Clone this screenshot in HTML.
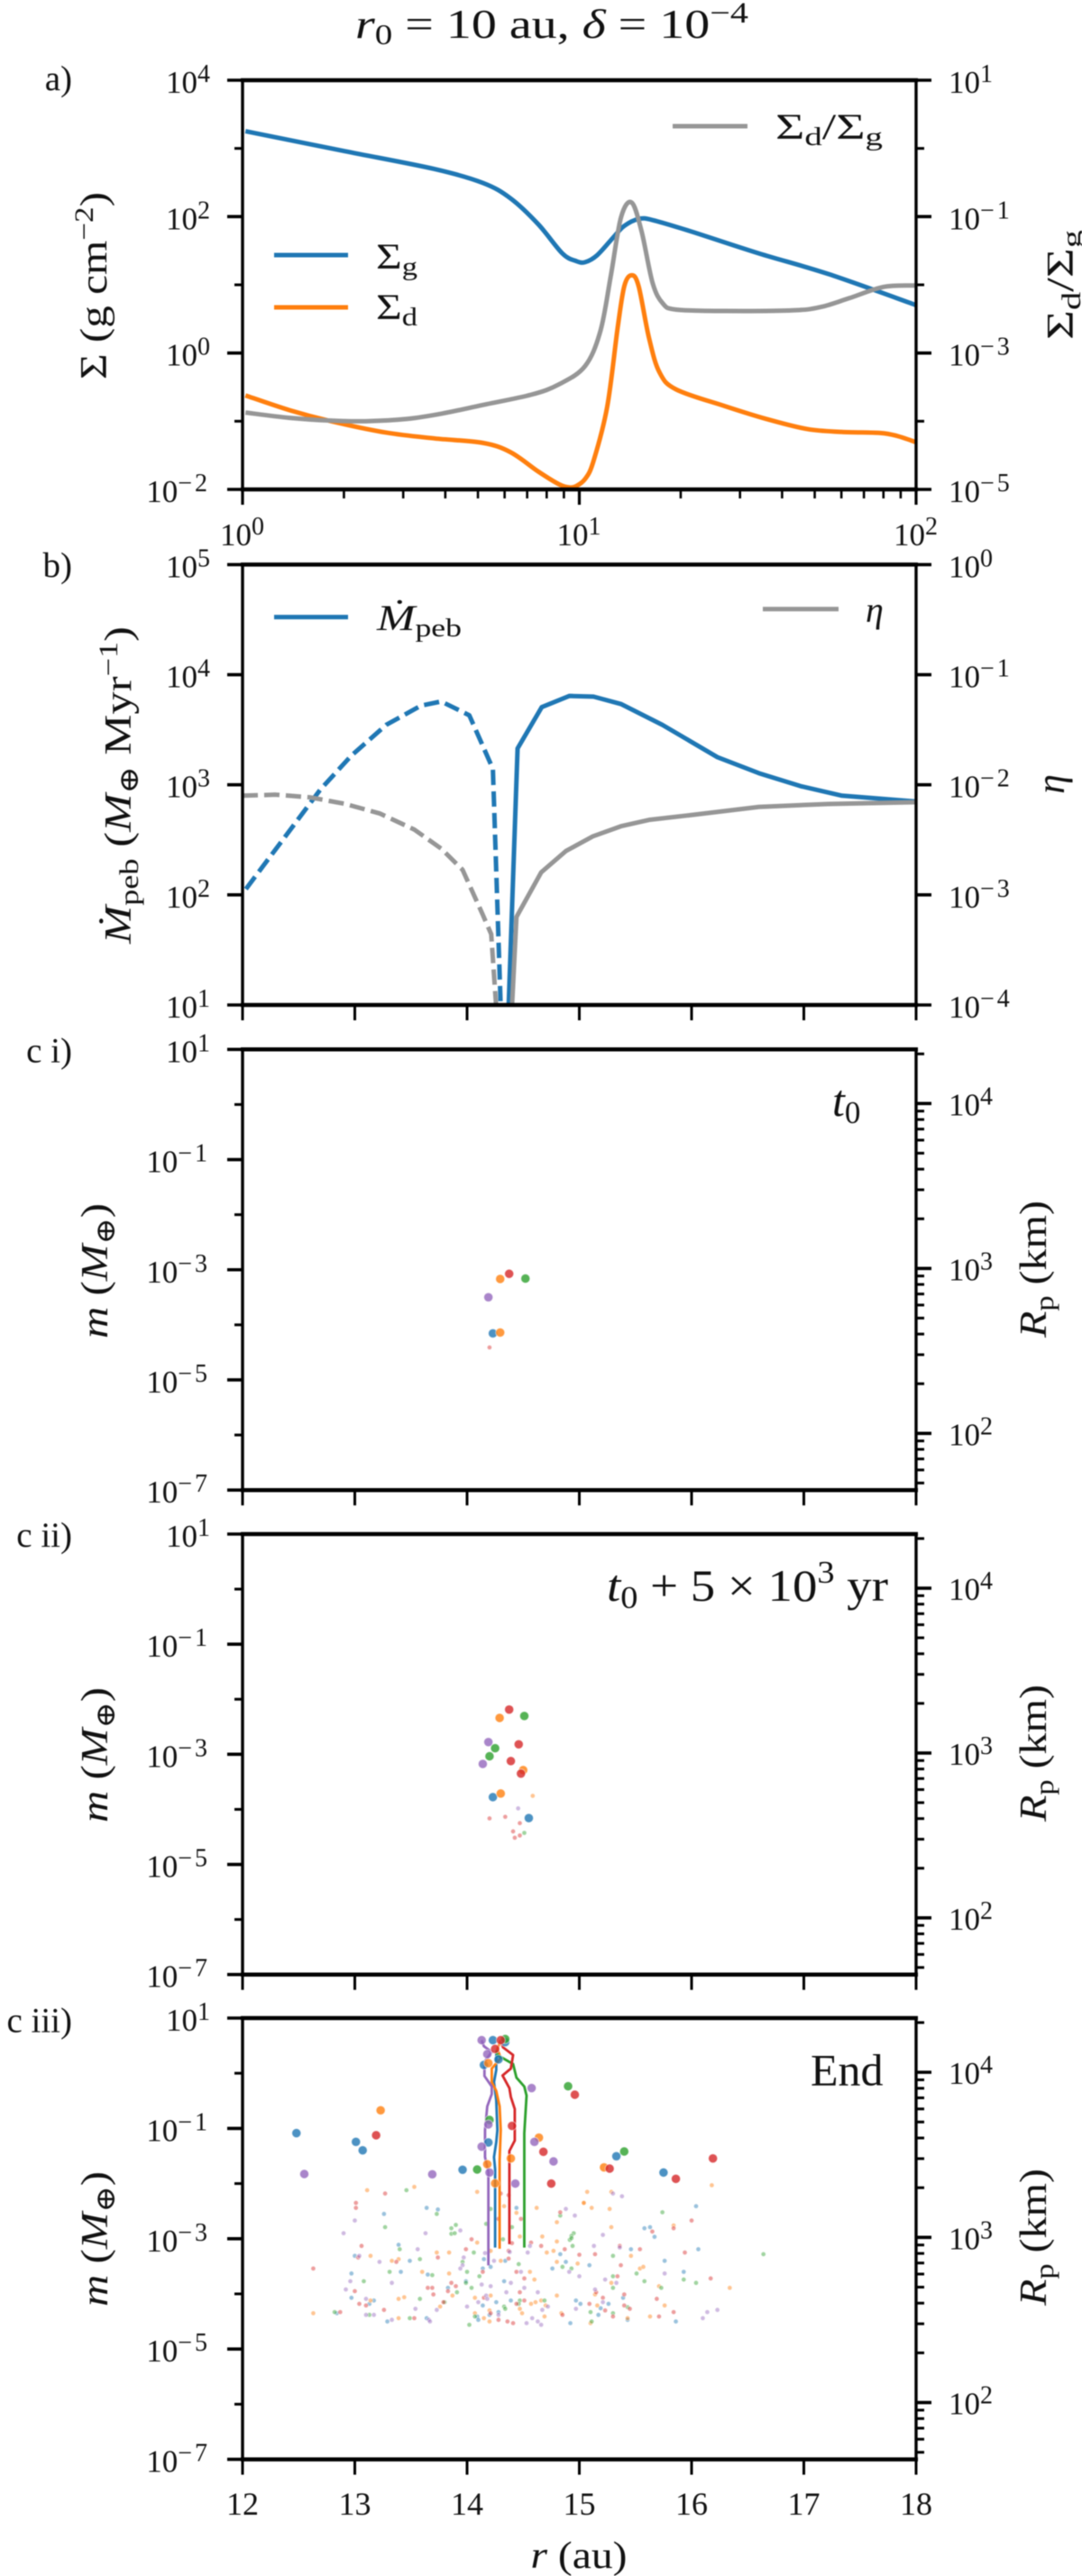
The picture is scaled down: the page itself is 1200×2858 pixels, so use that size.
<!DOCTYPE html>
<html lang="en">
<head>
<meta charset="utf-8">
<title>Planetesimal growth figure</title>
<style>
html,body{margin:0;padding:0;background:#fff;}
svg{display:block;filter:blur(.45px);}
text{font-family:"Liberation Serif","DejaVu Serif",serif;fill:#111;}
.i{font-style:italic;}
</style>
</head>
<body>
<svg id="fig" xmlns="http://www.w3.org/2000/svg" width="1200" height="2858" viewBox="0 0 1200 2858">
  <rect width="1200" height="2858" fill="#fff"/>
  <g id="marks"></g>
  <g id="axes"></g>

  <text x="394" y="42" font-size="46" textLength="436" lengthAdjust="spacingAndGlyphs"><tspan class="i">r</tspan><tspan font-size="32" dy="7">0</tspan><tspan dy="-7"> = 10 au, </tspan><tspan class="i">δ</tspan><tspan> = 10</tspan><tspan font-size="33" dy="-17">−4</tspan></text>

  <text x="80" y="100" font-size="39" text-anchor="end">a)</text>
  <text x="80" y="640" font-size="39" text-anchor="end">b)</text>
  <text x="80" y="1178.6" font-size="39" text-anchor="end">c i)</text>
  <text x="80" y="1716" font-size="39" text-anchor="end">c ii)</text>
  <text x="80" y="2254.6" font-size="39" text-anchor="end">c iii)</text>

  <text transform="translate(118 317) rotate(-90)" font-size="42" text-anchor="middle" textLength="208" lengthAdjust="spacingAndGlyphs">Σ (g cm<tspan font-size="30" dy="-15">−2</tspan><tspan dy="15">)</tspan></text>
  <text transform="translate(1190 316) rotate(-90)" font-size="42" text-anchor="middle" textLength="122" lengthAdjust="spacingAndGlyphs">Σ<tspan font-size="30" dy="8">d</tspan><tspan dy="-8">/Σ</tspan><tspan font-size="30" dy="8">g</tspan></text>
  <text transform="translate(145 871) rotate(-90)" font-size="42" text-anchor="middle" textLength="352" lengthAdjust="spacingAndGlyphs"><tspan class="i">Ṁ</tspan><tspan font-size="30" dy="8">peb</tspan><tspan dy="-8"> (</tspan><tspan class="i">M</tspan><tspan font-size="30" dy="8">⊕</tspan><tspan dy="-8"> Myr</tspan><tspan font-size="30" dy="-15">−1</tspan><tspan dy="15">)</tspan></text>
  <text transform="translate(1180 870) rotate(-90)" font-size="44" text-anchor="middle" class="i">η</text>

  <text transform="translate(119 1410) rotate(-90)" font-size="42" text-anchor="middle" textLength="150" lengthAdjust="spacingAndGlyphs"><tspan class="i">m</tspan><tspan> (</tspan><tspan class="i">M</tspan><tspan font-size="30" dy="8">⊕</tspan><tspan dy="-8">)</tspan></text>
  <text transform="translate(1160 1408) rotate(-90)" font-size="42" text-anchor="middle" textLength="152" lengthAdjust="spacingAndGlyphs"><tspan class="i">R</tspan><tspan font-size="30" dy="8">p</tspan><tspan dy="-8"> (km)</tspan></text>
  <text transform="translate(119 1947) rotate(-90)" font-size="42" text-anchor="middle" textLength="150" lengthAdjust="spacingAndGlyphs"><tspan class="i">m</tspan><tspan> (</tspan><tspan class="i">M</tspan><tspan font-size="30" dy="8">⊕</tspan><tspan dy="-8">)</tspan></text>
  <text transform="translate(1160 1945) rotate(-90)" font-size="42" text-anchor="middle" textLength="152" lengthAdjust="spacingAndGlyphs"><tspan class="i">R</tspan><tspan font-size="30" dy="8">p</tspan><tspan dy="-8"> (km)</tspan></text>
  <text transform="translate(119 2484) rotate(-90)" font-size="42" text-anchor="middle" textLength="150" lengthAdjust="spacingAndGlyphs"><tspan class="i">m</tspan><tspan> (</tspan><tspan class="i">M</tspan><tspan font-size="30" dy="8">⊕</tspan><tspan dy="-8">)</tspan></text>
  <text transform="translate(1160 2482) rotate(-90)" font-size="42" text-anchor="middle" textLength="152" lengthAdjust="spacingAndGlyphs"><tspan class="i">R</tspan><tspan font-size="30" dy="8">p</tspan><tspan dy="-8"> (km)</tspan></text>
  <text x="642" y="2849" font-size="42" text-anchor="middle" textLength="107" lengthAdjust="spacingAndGlyphs"><tspan class="i">r</tspan><tspan> (au)</tspan></text>

  <g>
    <line x1="304" x2="386" y1="283" y2="283" stroke="#1f77b4" stroke-width="5"/>
    <text x="417" y="298" font-size="40" textLength="46" lengthAdjust="spacingAndGlyphs">Σ<tspan font-size="28" dy="7">g</tspan></text>
    <line x1="304" x2="386" y1="341" y2="341" stroke="#ff7f0e" stroke-width="5"/>
    <text x="417" y="354" font-size="40" textLength="46" lengthAdjust="spacingAndGlyphs">Σ<tspan font-size="28" dy="7">d</tspan></text>
    <line x1="746" x2="829" y1="140" y2="140" stroke="#969696" stroke-width="5"/>
    <text x="860" y="154" font-size="40" textLength="119" lengthAdjust="spacingAndGlyphs">Σ<tspan font-size="28" dy="7">d</tspan><tspan dy="-7">/Σ</tspan><tspan font-size="28" dy="7">g</tspan></text>
  </g>
  <g>
    <line x1="304" x2="386" y1="684.6" y2="684.6" stroke="#1f77b4" stroke-width="5"/>
    <text x="418" y="699" font-size="40" textLength="94" lengthAdjust="spacingAndGlyphs"><tspan class="i">Ṁ</tspan><tspan font-size="28" dy="7">peb</tspan></text>
    <line x1="846" x2="930" y1="675.7" y2="675.7" stroke="#969696" stroke-width="5"/>
    <text x="960" y="690" font-size="40" class="i">η</text>
  </g>

  <text x="923" y="1238" font-size="50"><tspan class="i">t</tspan><tspan font-size="35" dy="8">0</tspan></text>
  <text x="673" y="1776" font-size="50" textLength="312" lengthAdjust="spacingAndGlyphs"><tspan class="i">t</tspan><tspan font-size="35" dy="8">0</tspan><tspan dy="-8"> + 5 × 10</tspan><tspan font-size="35" dy="-20">3</tspan><tspan dy="20"> yr</tspan></text>
  <text x="899" y="2313.6" font-size="50">End</text>
</svg>

<script>
// ---------- Panel a: surface densities against radius (au) ----------
const gasRadius = [1.02,2.01,3.72,5.17,6.25,7.55,8.91,9.79,10.4,11.3,12.7,13.6,15.0,16.5,21.3,34.2,54.9,100];
const gasSigma = [1790,912,498,312,185,77.4,28.8,22.3,21.5,27.2,51.5,73.1,92.3,89.1,61.4,28.8,14.4,5.04];
const dustRadius = [1.02,1.38,1.83,2.67,3.72,5.17,6.25,7.55,8.70,9.34,9.79,10.4,11.0,12.1,13.0,13.6,14.3,15.0,16.1,17.3,19.4,27.0,35.9,47.6,60.3,78.2,88.0,100];
const dustSigma = [.239,.145,.1,.0681,.0559,.0481,.0351,.0183,.0119,.0107,.0112,.0142,.0254,.163,2.37,9.55,13.8,9.55,1.67,.521,.292,.167,.108,.0766,.0697,.0673,.0607,.0492];
const ratioRadius = [1.02,1.38,1.83,2.32,3.08,3.90,5.17,7.20,8.70,10.4,11.55,12.4,13.3,14.3,15.3,16.5,17.7,19.4,27.0,43.3,52.3,63.2,80.1,100];
const ratioValue = [1.34e-4,1.12e-4,1.02e-4,1.0e-4,1.08e-4,1.29e-4,1.73e-4,2.45e-4,3.47e-4,6.43e-4,2.10e-3,.0135,.0977,.161,.0614,.0107,5.33e-3,4.33e-3,4.13e-3,4.23e-3,4.75e-3,6.35e-3,9.33e-3,9.77e-3];
const sigmaMajorExps = [4,2,0,-2];
const sigmaMinorExps = [3,1,-1];
const ratioMajorExps = [1,-1,-3,-5];
const ratioMinorExps = [0,-2,-4];
const radiusLogExps = [0,1,2];

// ---------- Panel b: pebble flux and eta ----------
const mdotDashRadius = [12.03,12.695,12.97,13.28,13.59,13.77,14.02,14.23,14.30];
const mdotDashValue = [113,910,1845,3500,5240,5710,4280,1396,9.5];
const mdotSolidRadius = [14.37,14.45,14.665,14.91,15.126,15.37,15.74,16.23,16.60,16.97,17.34,18];
const mdotSolidValue = [9.5,2138,5070,6410,6320,5420,3500,1782,1274,973,796,705];
const etaDashRadius = [12.0,12.295,12.60,12.91,13.22,13.53,13.77,13.96,14.14,14.215,14.26];
const etaDashValue = [7.96e-3,8.13e-3,7.69e-3,6.72e-3,5.5e-3,3.92e-3,2.63e-3,1.69e-3,6.6e-4,4.4e-4,.95e-4];
const etaSolidRadius = [14.40,14.44,14.66,14.88,15.12,15.37,15.62,15.99,16.6,17.22,18];
const etaSolidValue = [.95e-4,6.3e-4,1.6e-3,2.5e-3,3.4e-3,4.2e-3,4.8e-3,5.3e-3,6.3e-3,6.7e-3,6.95e-3];
const mdotTickExps = [5,4,3,2,1];
const etaTickExps = [0,-1,-2,-3,-4];
const linearRadiusTicks = [12,13,14,15,16,17,18];

// ---------- Panels c: mass axes ----------
const massMajorExps = [1,-1,-3,-5,-7];
const massMinorExps = [0,-2,-4,-6];
const radiusKmMajorExps = [4,3,2];

// Scatter points as [radius au, log10 mass]
const c1Large = {
  blue: [[14.23,-4.155]],
  orange: [[14.295,-3.167],[14.295,-4.14]],
  green: [[14.52,-3.16]],
  red: [[14.375,-3.074]],
  purple: [[14.19,-3.5]]
};
const c1Small = { red: [[14.20,-4.41]] };

const c2Large = {
  blue: [[14.23,-3.778],[14.55,-4.158]],
  orange: [[14.29,-2.339],[14.50,-3.287],[14.30,-3.713]],
  green: [[14.51,-2.304],[14.25,-2.889],[14.20,-3.035]],
  red: [[14.375,-2.187],[14.46,-2.819],[14.39,-3.123],[14.48,-3.351]],
  purple: [[14.19,-2.778],[14.14,-3.175]]
};
const c2Small = {
  orange: [[14.585,-3.754]],
  green: [[14.51,-4.427]],
  red: [[14.20,-4.164],[14.34,-4.135],[14.47,-4.25],[14.41,-4.40],[14.47,-4.474],[14.425,-4.515]],
  purple: [[14.455,-3.982]]
};

const c3Large = {
  blue: [[14.23,.60],[14.34,.564],[14.28,.25],[14.15,.15],[12.48,-1.086],[13.01,-1.244],[13.07,-1.397],[13.96,-1.75],[14.19,-1.255],[15.33,-1.505],[15.75,-1.80]],
  orange: [[14.19,.183],[13.23,-.672],[14.18,-1.65],[14.39,-1.544],[14.64,-1.168],[14.25,-1.996],[15.22,-1.707]],
  green: [[14.34,.62],[14.90,-.236],[14.09,-1.745],[14.20,-.846],[15.40,-1.418]],
  red: [[14.30,.60],[14.25,.44],[14.96,-.389],[13.19,-1.124],[14.40,-.955],[14.68,-1.424],[14.75,-2.0],[15.27,-1.729],[15.86,-1.914],[16.19,-1.544]],
  purple: [[14.13,.60],[14.18,.346],[14.575,-.269],[12.55,-1.827],[13.69,-1.832],[14.20,-1.80],[14.19,-.928],[14.13,-1.331],[14.60,-1.244],[14.77,-1.598],[14.43,-2.0]]
};

const c3Small = {
  blue: [[13.64,-2.44],[13.74,-2.47],[13.26,-2.55],[14.44,-2.44],[15.58,-2.81],[15.63,-2.79],[15.67,-2.965],[16.04,-2.41],
    [13.39,-3.11],[13.00,-3.31],[13.49,-3.40],[12.97,-3.63],[13.41,-3.60],[12.97,-4.07],[13.17,-4.12],[13.13,-4.18],[12.84,-4.35],[13.29,-4.50],[13.64,-4.44],[13.65,-3.65],[13.83,-3.89],[13.99,-3.77],[14.14,-3.54],[14.15,-3.37],[14.21,-3.51],[14.33,-3.77],[14.39,-4.12],[14.26,-4.15],[14.14,-4.21],[14.28,-4.33],[14.20,-4.38],[14.09,-4.41],[14.10,-4.47],[14.92,-4.53],[14.97,-4.12],[15.01,-4.18],[14.83,-3.28],[14.88,-3.42],[14.76,-3.54],[14.34,-3.40],
    [15.46,-3.19],[15.76,-3.40],[15.09,-3.48],[16.06,-3.19],[15.93,-3.60],[15.19,-4.26],[15.17,-4.38],[15.26,-4.18],[15.86,-4.50],[15.43,-4.47],[15.39,-4.07]],
  orange: [[13.11,-2.12],[13.53,-2.06],[14.09,-2.15],[14.33,-2.41],[14.44,-2.53],[14.62,-2.44],[14.80,-2.70],[15.04,-2.35],[15.07,-2.15],[15.285,-2.15],[15.04,-2.35],[15.11,-2.44],[15.27,-2.46],[15.285,-2.79],[15.84,-2.76],[16.18,-2.03],
    [13.14,-3.31],[13.33,-3.40],[13.39,-3.37],[13.73,-3.25],[13.84,-3.25],[14.09,-3.07],[14.47,-2.96],[14.67,-2.96],[14.80,-3.05],[14.71,-3.25],[14.77,-3.22],[14.80,-3.42],[14.985,-3.45],[13.60,-3.60],[13.84,-3.63],[13.39,-4.09],[13.44,-4.06],[13.14,-4.12],[12.63,-4.35],[13.39,-4.44],[13.76,-4.23],[13.87,-4.03],[14.07,-4.07],[14.21,-4.03],[14.56,-3.60],[14.60,-3.74],[14.47,-4.27],[14.49,-4.35],[14.57,-4.18],[14.61,-4.15],[14.66,-4.12],[14.70,-4.21],[14.80,-4.03],[14.84,-4.35],[14.69,-4.41],[14.20,-4.30],[14.07,-4.35],[14.15,-4.44],[14.20,-4.50],[14.21,-3.22],[14.30,-3.40],
    [15.46,-3.31],[15.54,-3.54],[15.57,-3.51],[15.285,-3.80],[15.14,-4.01],[15.16,-4.21],[15.71,-3.86],[15.76,-4.21],[15.43,-4.44],[15.63,-4.41],[16.34,-3.89],[15.10,-4.53]],
  green: [[13.46,-2.12],[13.73,-2.55],[13.27,-2.79],[13.90,-2.75],[13.86,-2.81],[13.86,-2.91],[13.89,-2.90],[14.21,-2.46],[14.17,-2.73],[14.40,-2.79],[14.83,-2.58],[15.74,-2.52],[14.95,-2.90],[14.93,-2.95],[14.915,-3.02],
    [13.40,-3.19],[14.06,-3.25],[13.58,-3.37],[13.96,-3.42],[13.31,-3.60],[13.08,-3.77],[13.69,-3.66],[14.00,-3.60],[14.11,-3.68],[14.04,-3.89],[13.91,-3.97],[13.99,-3.80],[13.58,-4.09],[12.82,-4.33],[13.13,-4.38],[13.49,-4.44],[13.80,-4.15],[14.33,-4.23],[14.34,-4.27],[14.07,-4.41],[14.02,-4.56],[14.46,-3.46],[14.47,-4.12],[14.46,-4.18],[14.69,-4.12],[14.85,-3.51],[14.93,-3.54],[14.94,-3.13],[14.93,-2.99],[14.32,-3.01],
    [15.30,-3.31],[15.51,-3.63],[15.58,-3.77],[15.30,-3.68],[15.30,-3.89],[15.93,-3.74],[16.04,-3.80],[15.73,-3.89],[15.10,-4.33],[15.43,-4.24],[15.30,-4.35],[16.64,-3.28],[15.11,-4.50]],
  red: [[13.27,-2.18],[13.01,-2.35],[13.01,-2.44],[14.30,-2.18],[14.37,-2.21],[14.28,-2.64],[14.48,-2.64],[14.83,-2.52],[15.65,-2.87],[15.84,-2.81],[16.0,-2.67],
    [13.06,-3.13],[12.63,-3.54],[13.00,-3.95],[13.04,-4.18],[13.10,-4.21],[13.26,-4.29],[13.03,-3.34],[13.37,-3.42],[13.74,-3.34],[13.99,-3.19],[14.04,-3.01],[13.65,-3.89],[13.69,-3.89],[13.70,-4.01],[13.83,-3.95],[13.86,-3.80],[13.90,-3.86],[14.40,-3.08],[14.37,-3.22],[14.37,-3.36],[14.57,-3.07],[14.66,-3.13],[14.87,-3.19],[15.00,-3.29],[14.44,-3.60],[14.51,-3.72],[14.47,-3.97],[14.51,-4.12],[14.44,-4.18],[12.87,-4.33],[13.53,-4.44],[13.79,-4.15],[14.21,-4.35],[14.28,-4.47],[14.36,-4.50],[14.41,-4.53],[14.85,-4.38],[14.14,-3.60],[14.15,-4.07],
    [15.14,-3.28],[15.36,-3.13],[15.54,-3.19],[15.34,-3.68],[15.37,-3.48],[15.94,-3.25],[16.17,-3.72],[15.21,-4.07],[15.09,-4.18],[15.15,-3.97],[15.23,-4.30],[15.40,-4.01],[15.40,-4.21],[15.45,-4.27],[15.69,-4.09],[15.84,-4.33],[15.71,-4.41],[15.30,-4.41]],
  purple: [[13.00,-2.67],[12.90,-2.90],[13.63,-2.90],[13.94,-2.85],[14.88,-2.46],[14.96,-2.58],[15.30,-2.18],[15.38,-2.23],[15.21,-2.93],
    [13.56,-3.19],[13.04,-3.31],[13.22,-3.42],[12.96,-3.77],[13.33,-3.80],[12.92,-3.92],[13.10,-4.09],[13.10,-4.38],[13.17,-4.38],[13.33,-4.47],[13.54,-4.27],[13.73,-4.29],[13.66,-4.47],[13.67,-4.50],[13.97,-3.34],[13.96,-3.48],[13.94,-3.54],[14.16,-3.26],[14.24,-3.40],[14.13,-3.83],[14.00,-4.23],[14.17,-4.03],[14.18,-4.09],[14.10,-4.15],[14.21,-3.86],[14.39,-3.80],[14.35,-3.97],[14.51,-3.89],[14.48,-3.60],[14.63,-3.97],[14.67,-4.29],[14.72,-4.23],[14.58,-4.44],[14.63,-4.50],[14.66,-4.56],[14.53,-4.53],[14.91,-3.60],[15.00,-3.68],[14.97,-4.27],[14.54,-3.25],[14.56,-3.13],[14.38,-3.24],[14.28,-4.38],
    [15.13,-3.13],[15.36,-3.16],[15.76,-3.63],[15.23,-3.74],[15.33,-3.80],[15.14,-3.92],[15.21,-4.15],[16.14,-4.33],[16.23,-4.29],[16.10,-4.44]]
};

// Growth tracks in the End panel as [radius au, log10 mass]
const trackBlue = [[14.25,-3.16],[14.25,-1.74],[14.24,-1.52],[14.26,-1.25],[14.27,-1.03],[14.26,-.49],[14.24,-.16],[14.26,.06],[14.26,.33],[14.27,.44]];
const trackOrange = [[14.29,-3.18],[14.29,-1.58],[14.30,-1.03],[14.29,-.60],[14.26,-.32],[14.22,-.16],[14.22,.085],[14.30,.275],[14.27,.44],[14.30,.60]];
const trackRed = [[14.377,-3.10],[14.377,-1.41],[14.425,-1.22],[14.425,-.65],[14.39,-.43],[14.377,-.27],[14.316,-.04],[14.39,.085],[14.41,.33],[14.32,.47],[14.30,.60]];
const trackGreen = [[14.51,-3.16],[14.51,-1.086],[14.53,-.405],[14.51,-.242],[14.44,-.079],[14.41,.167],[14.27,.33],[14.26,.41]];
const trackPurple = [[14.19,-3.483],[14.19,-1.794],[14.16,-1.52],[14.16,-1.03],[14.18,-.60],[14.22,-.378],[14.22,-.24],[14.155,-.05],[14.155,.167],[14.16,.22],[14.22,.385],[14.15,.49],[14.13,.60]];

const COLORS = {blue:'#1f77b4',orange:'#ff7f0e',green:'#2ca02c',red:'#d62728',purple:'#9467bd'};
const GREY = '#969696';
const NS = 'http://www.w3.org/2000/svg';
const marksLayer = document.getElementById('marks');
const axesLayer = document.getElementById('axes');
const PLOT_LEFT = 269, PLOT_RIGHT = 1016;

function logScale(d0,d1,p0,p1){
  return v => p0 + (Math.log10(v)-Math.log10(d0))/(Math.log10(d1)-Math.log10(d0))*(p1-p0);
}
function linScale(d0,d1,p0,p1){
  return v => p0 + (v-d0)/(d1-d0)*(p1-p0);
}
function svgEl(tag,attrs,parent){
  const el = document.createElementNS(NS,tag);
  for(const k in attrs){ el.setAttribute(k,attrs[k]); }
  parent.appendChild(el);
  return el;
}
function makeClip(id,top,bottom){
  const cp = svgEl('clipPath',{id:id},marksLayer);
  svgEl('rect',{x:PLOT_LEFT,y:top,width:PLOT_RIGHT-PLOT_LEFT,height:bottom-top},cp);
}
function polyPath(xs,ys,fx,fy){
  return xs.map((x,i)=>(i?'L':'M')+fx(x).toFixed(2)+' '+fy(ys[i]).toFixed(2)).join(' ');
}
function smoothPath(xs,ys,fx,fy){
  const p = xs.map((x,i)=>[fx(x),fy(ys[i])]);
  let d = 'M'+p[0][0].toFixed(2)+' '+p[0][1].toFixed(2);
  for(let i=0;i<p.length-1;i++){
    const a=p[Math.max(i-1,0)],b=p[i],c=p[i+1],e=p[Math.min(i+2,p.length-1)];
    const c1=[b[0]+(c[0]-a[0])/6,b[1]+(c[1]-a[1])/6];
    const c2=[c[0]-(e[0]-b[0])/6,c[1]-(e[1]-b[1])/6];
    d+=' C'+c1[0].toFixed(2)+' '+c1[1].toFixed(2)+' '+c2[0].toFixed(2)+' '+c2[1].toFixed(2)+' '+c[0].toFixed(2)+' '+c[1].toFixed(2);
  }
  return d;
}
function drawLine(d,color,width,clipId,name,dash){
  const el = svgEl('path',{d:d,fill:'none',stroke:color,'stroke-width':width,'stroke-linejoin':'round','clip-path':'url(#'+clipId+')'},marksLayer);
  if(dash){ el.setAttribute('stroke-dasharray',dash); }
  
  
  return el;
}
function hLine(x1,x2,y,w,name){
  const el = svgEl('line',{x1:x1,x2:x2,y1:y,y2:y,stroke:'#000','stroke-width':w},axesLayer);
  
  
}
function vLine(x,y1,y2,w,name){
  const el = svgEl('line',{x1:x,x2:x,y1:y1,y2:y2,stroke:'#000','stroke-width':w},axesLayer);
  
  
}
function frame(top,bottom,prefix){
  hLine(PLOT_LEFT-2,PLOT_RIGHT+2,top,4.5,prefix+'-top-spine');
  hLine(PLOT_LEFT-2,PLOT_RIGHT+2,bottom,4.5,prefix+'-bottom-spine');
  vLine(PLOT_LEFT,top,bottom,3.4,prefix+'-left-spine');
  vLine(PLOT_RIGHT,top,bottom,3.4,prefix+'-right-spine');
}
function powerLabel(x,y,exp,anchor,name){
  const t = svgEl('text',{x:x,y:y,'font-size':35,'text-anchor':anchor},axesLayer);
  
  
  t.appendChild(document.createTextNode('10'));
  const s = svgEl('tspan',{'font-size':28,dy:-12,'letter-spacing':exp<0?3:0},t);
  s.textContent = (exp<0?'−':'')+Math.abs(exp);
}
function plainLabel(x,y,str,name){
  const t = svgEl('text',{x:x,y:y,'font-size':36,'text-anchor':'middle'},axesLayer);
  
  
  t.textContent = str;
}
function leftTicks(fy,majors,minors,prefix,withLabels){
  majors.forEach(e=>{
    const y = fy(Math.pow(10,e));
    hLine(PLOT_LEFT-17,PLOT_LEFT,y,3.6,prefix+'-left-major-tick');
    if(withLabels){ powerLabel(233,y+14,e,'end',prefix+'-left-tick-label'); }
  });
  minors.forEach(e=>{
    hLine(PLOT_LEFT-9,PLOT_LEFT,fy(Math.pow(10,e)),3,prefix+'-left-minor-tick');
  });
}
function rightTicks(fy,majors,minors,prefix){
  majors.forEach(e=>{
    const y = fy(Math.pow(10,e));
    hLine(PLOT_RIGHT,PLOT_RIGHT+17,y,3.6,prefix+'-right-major-tick');
    powerLabel(1052,y+14,e,'start',prefix+'-right-tick-label');
  });
  minors.forEach(e=>{
    hLine(PLOT_RIGHT,PLOT_RIGHT+9,fy(Math.pow(10,e)),3,prefix+'-right-minor-tick');
  });
}
function linearXTicks(fx,bottom,prefix){
  linearRadiusTicks.forEach(v=>{
    vLine(fx(v),bottom,bottom+17,3,prefix+'-x-tick');
  });
}
function scatter(groups,fx,fy,radius,opacity,prefix){
  Object.keys(groups).forEach(colorKey=>{
    groups[colorKey].forEach(pt=>{
      const c = svgEl('circle',{cx:fx(pt[0]).toFixed(2),cy:fy(Math.pow(10,pt[1])).toFixed(2),r:radius,fill:COLORS[colorKey],'fill-opacity':opacity,stroke:'#fff','stroke-opacity':.6,'stroke-width':.8},marksLayer);
      
      
    });
  });
}
function trackPath(track,fx,fy){
  return polyPath(track.map(p=>p[0]),track.map(p=>Math.pow(10,p[1])),fx,fy);
}

// ---------- draw panel a ----------
(function(){
  const top=89,bottom=543;
  makeClip('clip-a',top,bottom);
  const fx = logScale(1,100,PLOT_LEFT,PLOT_RIGHT);
  const fyS = logScale(1e4,1e-2,top,bottom);
  const fyR = logScale(10,1e-5,top,bottom);
  drawLine(smoothPath(gasRadius,gasSigma,fx,fyS),COLORS.blue,5,'clip-a','sigma-gas-line');
  drawLine(smoothPath(dustRadius,dustSigma,fx,fyS),COLORS.orange,5,'clip-a','sigma-dust-line');
  drawLine(smoothPath(ratioRadius,ratioValue,fx,fyR),GREY,5,'clip-a','dust-to-gas-line');
  frame(top,bottom,'panel-a');
  leftTicks(fyS,sigmaMajorExps,sigmaMinorExps,'panel-a',true);
  rightTicks(fyR,ratioMajorExps,ratioMinorExps,'panel-a');
  radiusLogExps.forEach(e=>{
    const v = Math.pow(10,e);
    vLine(fx(v),bottom,bottom+17,3.2,'panel-a-x-major-tick');
    powerLabel(fx(v)-25,605,e,'start','panel-a-x-tick-label');
    if(e<2){
      [2,3,4,5,6,7,8,9].forEach(k=>{
        vLine(fx(k*v),bottom,bottom+10,2.6,'panel-a-x-minor-tick');
      });
    }
  });
})();

// ---------- draw panel b ----------
(function(){
  const top=626.4,bottom=1115;
  makeClip('clip-b',top,bottom);
  const fx = linScale(12,18,PLOT_LEFT,PLOT_RIGHT);
  const fyM = logScale(1e5,10,top,bottom);
  const fyE = logScale(1,1e-4,top,bottom);
  drawLine(polyPath(mdotDashRadius,mdotDashValue,fx,fyM),COLORS.blue,5,'clip-b','mdot-dashed-line','17 7');
  drawLine(polyPath(mdotSolidRadius,mdotSolidValue,fx,fyM),COLORS.blue,5,'clip-b','mdot-solid-line');
  drawLine(polyPath(etaDashRadius,etaDashValue,fx,fyE),GREY,5,'clip-b','eta-dashed-line','17 7');
  drawLine(polyPath(etaSolidRadius,etaSolidValue,fx,fyE),GREY,5,'clip-b','eta-solid-line');
  frame(top,bottom,'panel-b');
  leftTicks(fyM,mdotTickExps,[],'panel-b',true);
  rightTicks(fyE,etaTickExps,[],'panel-b');
  linearXTicks(fx,bottom,'panel-b');
})();

// ---------- draw panels c ----------
function massPanel(top,bottom,prefix,clipId){
  makeClip(clipId,top,bottom);
  const fx = linScale(12,18,PLOT_LEFT,PLOT_RIGHT);
  const fy = logScale(10,1e-7,top,bottom);
  const fyRp = logScale(21290,45.3,top,bottom);
  return {fx:fx,fy:fy,fyRp:fyRp,top:top,bottom:bottom,prefix:prefix,clipId:clipId};
}
function massAxes(p){
  frame(p.top,p.bottom,p.prefix);
  leftTicks(p.fy,massMajorExps,massMinorExps,p.prefix,true);
  radiusKmMajorExps.forEach(e=>{
    const y = p.fyRp(Math.pow(10,e));
    hLine(PLOT_RIGHT,PLOT_RIGHT+17,y,3.6,p.prefix+'-radius-major-tick');
    powerLabel(1052,y+13,e,'start',p.prefix+'-radius-tick-label');
  });
  [1,2,3,4].forEach(e=>{
    [2,3,4,5,6,7,8,9].forEach(k=>{
      const v = k*Math.pow(10,e);
      if(v>45.3 && v<21290){
        hLine(PLOT_RIGHT,PLOT_RIGHT+9,p.fyRp(v),3,p.prefix+'-radius-minor-tick');
      }
    });
  });
  linearXTicks(p.fx,p.bottom,p.prefix);
}

const panelC1 = massPanel(1164.3,1653.2,'panel-c-i','clip-c1');
scatter(c1Small,panelC1.fx,panelC1.fy,2.6,.45,'panel-c-i-small');
scatter(c1Large,panelC1.fx,panelC1.fy,5,.8,'panel-c-i-large');
massAxes(panelC1);

const panelC2 = massPanel(1702,2190.7,'panel-c-ii','clip-c2');
scatter(c2Small,panelC2.fx,panelC2.fy,2.6,.45,'panel-c-ii-small');
scatter(c2Large,panelC2.fx,panelC2.fy,5,.8,'panel-c-ii-large');
massAxes(panelC2);

const panelC3 = massPanel(2239,2728.6,'panel-c-iii','clip-c3');
scatter(c3Small,panelC3.fx,panelC3.fy,2.6,.45,'panel-c-iii-small');
drawLine(trackPath(trackBlue,panelC3.fx,panelC3.fy),COLORS.blue,2.8,'clip-c3','growth-track-blue');
drawLine(trackPath(trackOrange,panelC3.fx,panelC3.fy),COLORS.orange,2.8,'clip-c3','growth-track-orange');
drawLine(trackPath(trackGreen,panelC3.fx,panelC3.fy),COLORS.green,2.8,'clip-c3','growth-track-green');
drawLine(trackPath(trackRed,panelC3.fx,panelC3.fy),COLORS.red,2.8,'clip-c3','growth-track-red');
drawLine(trackPath(trackPurple,panelC3.fx,panelC3.fy),COLORS.purple,2.8,'clip-c3','growth-track-purple');
scatter(c3Large,panelC3.fx,panelC3.fy,5,.8,'panel-c-iii-large');
massAxes(panelC3);

linearRadiusTicks.forEach(v=>{
  plainLabel(panelC3.fx(v),2790,String(v),'x-tick-label');
});
</script>
</body>
</html>
